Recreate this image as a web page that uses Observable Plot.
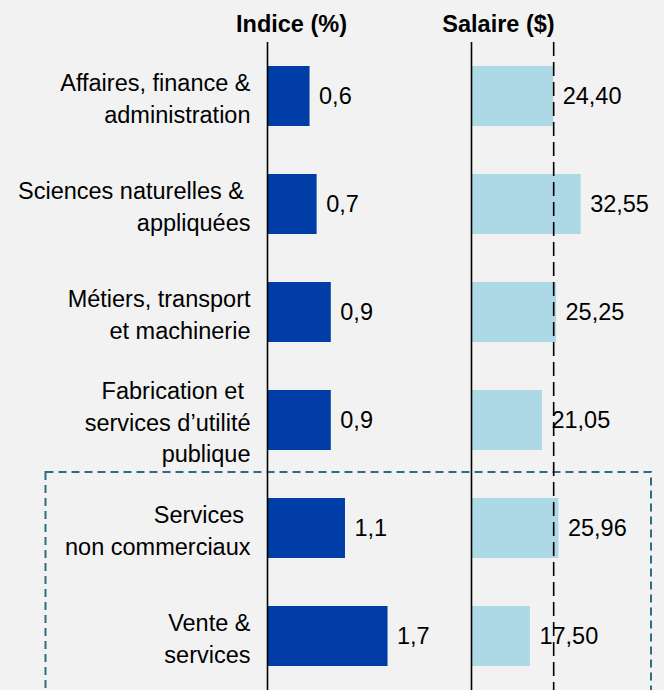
<!DOCTYPE html>
<html>
<head>
<meta charset="utf-8">
<script src="https://cdn.jsdelivr.net/npm/d3@7"></script>
<script src="https://cdn.jsdelivr.net/npm/@observablehq/plot@0.6"></script>
<style>
  html, body { margin: 0; padding: 0; background: #f2f2f2; }
  #chart { position: relative; width: 664px; height: 690px; overflow: hidden; background: #f2f2f2;
           font-family: "Liberation Sans", Arial, Helvetica, sans-serif; }
  #chart svg { position: absolute; left: 0; top: 0; }
</style>
</head>
<body>
<div id="chart"></div>
<script>
// ---- data ----
const categories = [
  "Affaires, finance &\nadministration",
  "Sciences naturelles &\u00a0\nappliquées",
  "Métiers, transport\net machinerie",
  "Fabrication et\u00a0\nservices d’utilité\npublique",
  "Services\u00a0\nnon commerciaux",
  "Vente &\nservices"
];
const indice = [0.6, 0.7, 0.9, 0.9, 1.1, 1.7];
const salaire = [24.40, 32.55, 25.25, 21.05, 25.96, 17.50];
const salaireReference = 24.40;
const highlighted = ["Services\u00a0\nnon commerciaux", "Vente &\nservices"];
const panelTitles = ["Indice (%)", "Salaire ($)"];

const rows = categories.map((c, i) => ({cat: c, indice: indice[i], salaire: salaire[i]}));
const frNum = (v, d) => v.toFixed(d).replace(".", ",");

const W = 664, H = 690;
const font = "Liberation Sans, Arial, Helvetica, sans-serif";
const FS = 23.5;
const yOpts = {domain: categories, paddingInner: 0.444, paddingOuter: 0.222, axis: null};

// ---- left panel: index ----
const left = Plot.plot({
  width: W, height: H,
  marginLeft: 267, marginRight: 0, marginTop: 42, marginBottom: 0,
  style: {background: "transparent", fontFamily: font, overflow: "visible"},
  x: {domain: [0, 5.6], axis: null},
  y: yOpts,
  marks: [
    Plot.rect([{y1: highlighted[0], y2: highlighted[1]}], {
      y1: "y1", y2: "y2", fill: "none", stroke: "#2f6c80", strokeWidth: 2,
      strokeDasharray: "8,5", insetLeft: -221.5, insetRight: 13, insetTop: -26, insetBottom: -30
    }),
    Plot.barX(rows, {y: "cat", x: "indice", fill: "#003da6"}),
    Plot.ruleX([0], {stroke: "#000", strokeWidth: 1.6}),
    Plot.text(rows, {y: "cat", x: "indice", text: d => frNum(d.indice, 1), textAnchor: "start",
      dx: 9, fontSize: FS, fill: "#000"}),
    Plot.text(rows, {y: "cat", text: "cat", frameAnchor: "left", textAnchor: "end", dx: -17,
      fontSize: FS, lineHeight: 1.35, fill: "#000"}),
    Plot.text([panelTitles[0]], {frameAnchor: "top-left", text: d => d, textAnchor: "middle",
      lineAnchor: "bottom", dx: 24, dy: -11, fontSize: FS, fontWeight: "bold", fill: "#000"})
  ]
});

// ---- right panel: wage ----
const right = Plot.plot({
  width: W, height: H,
  marginLeft: 471, marginRight: 0, marginTop: 42, marginBottom: 0,
  style: {background: "transparent", fontFamily: font, overflow: "visible"},
  x: {domain: [0, 57.3], axis: null},
  y: yOpts,
  marks: [
    Plot.barX(rows, {y: "cat", x: "salaire", fill: "#add8e6"}),
    Plot.ruleX([0], {stroke: "#000", strokeWidth: 1.6}),
    Plot.ruleX([salaireReference], {stroke: "#000", strokeWidth: 1.6, strokeDasharray: "14,6"}),
    Plot.text(rows, {y: "cat", x: "salaire", text: d => frNum(d.salaire, 2), textAnchor: "start",
      dx: 9, fontSize: FS, fill: "#000"}),
    Plot.text([panelTitles[1]], {frameAnchor: "top-left", text: d => d, textAnchor: "middle",
      lineAnchor: "bottom", dx: 27, dy: -11, fontSize: FS, fontWeight: "bold", fill: "#000"})
  ]
});

const chart = document.getElementById("chart");
chart.appendChild(left);
chart.appendChild(right);
</script>
</body>
</html>
